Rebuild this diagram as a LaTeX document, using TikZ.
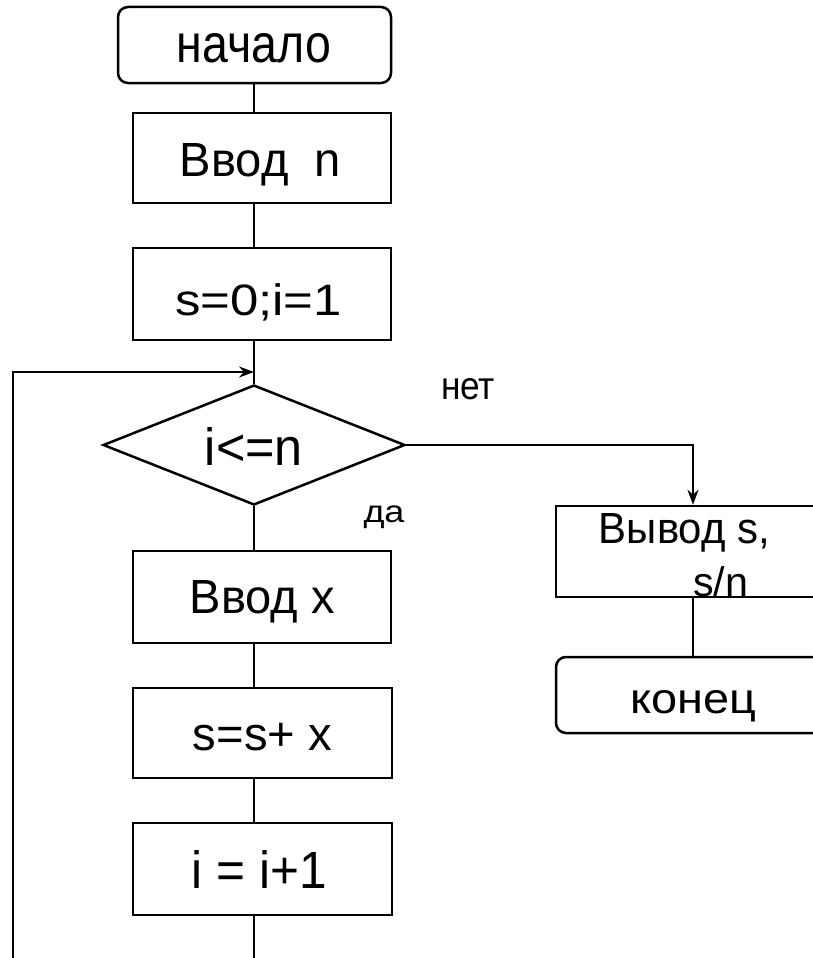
\documentclass[tikz,border=0pt]{standalone}
\usepackage{fontspec}
\setmainfont{Liberation Sans}
\usetikzlibrary{shapes.geometric,arrows.meta}
\begin{document}
\begin{tikzpicture}[x=1pt,y=-1pt, line width=2.5pt,
  box/.style={draw, rectangle, inner sep=0pt, line width=2.5pt},
  term/.style={box, rounded corners=10pt},
  txt/.style={anchor=base, inner sep=0pt},
  arr/.style={-{Stealth[length=15pt,width=11pt,inset=5pt]}}]
\path[clip, use as bounding box] (0,0) rectangle (813,958);
% shapes
\node[term, minimum width=273pt, minimum height=76pt] (start) at (254.5,45) {};
\node[box, minimum width=258pt, minimum height=90pt] (inN) at (262,158) {};
\node[box, minimum width=258pt, minimum height=92pt] (init) at (262,294) {};
\node[draw, diamond, minimum width=302pt, minimum height=120pt, inner sep=0pt] (dia) at (254,445) {};
\node[box, minimum width=258pt, minimum height=92pt] (inX) at (262,597) {};
\node[box, minimum width=259pt, minimum height=90pt] (add) at (262.5,733) {};
\node[box, minimum width=259pt, minimum height=92pt] (inc) at (262.5,869) {};
\node[box, minimum width=344pt, minimum height=91pt] (out) at (728,551.5) {};
\node[term, minimum width=344pt, minimum height=76pt] (end) at (728,695) {};
% helper coordinates
\coordinate (col) at (254,0);
\coordinate (ocol) at (693,0);
\coordinate (lcol) at (13,0);
\coordinate (loopy) at (0,372);
\coordinate (below) at (0,990);
% connectors
\draw (start.south -| col) -- (inN.north -| col);
\draw (inN.south -| col) -- (init.north -| col);
\draw (init.south -| col) -- (dia.north);
\draw (dia.south) -- (inX.north -| col);
\draw (inX.south -| col) -- (add.north -| col);
\draw (add.south -| col) -- (inc.north -| col);
\draw[arr] (inc.south -| col) -- (col |- below) -- (lcol |- below) -- (lcol |- loopy) -- (col |- loopy);
\draw[arr] (dia.east) -| (out.north -| ocol);
\draw (out.south -| ocol) -- (end.north -| ocol);
% texts
\node[txt] (t1) at (254,63) {\resizebox{154pt}{29pt}{начало}};
\node[txt] (t2) at (260.5,176) {\resizebox{161pt}{33pt}{Ввод\ \ n}};
\node[txt] (t3) at (258.5,315) {\fontsize{44}{44}\selectfont\resizebox{167pt}{\height}{s=0;i=1}};
\node[txt] (t4) at (254,465) {\resizebox{98pt}{38pt}{i<=n}};
\node[txt] (t5) at (468,399) {\resizebox{54pt}{21pt}{нет}};
\node[txt] (t6) at (384,522) {\fontsize{31}{31}\selectfont\resizebox{41pt}{\height}{да}};
\node[txt] (t7) at (262.5,613) {\resizebox{145pt}{33pt}{Ввод x}};
\node[txt] (t8) at (262.5,750) {\resizebox{139pt}{!}{s=s+ x}};
\node[txt] (t9) at (259.5,888) {\resizebox{135pt}{38pt}{i = i+1}};
\node[txt] (t10) at (684.5,543) {\resizebox{171pt}{30pt}{Вывод s,}};
\node[txt] (t11) at (720.5,596) {\resizebox{55pt}{!}{s/n}};
\node[txt] (t12) at (693,713) {\resizebox{126pt}{23pt}{конец}};
\end{tikzpicture}
\end{document}
